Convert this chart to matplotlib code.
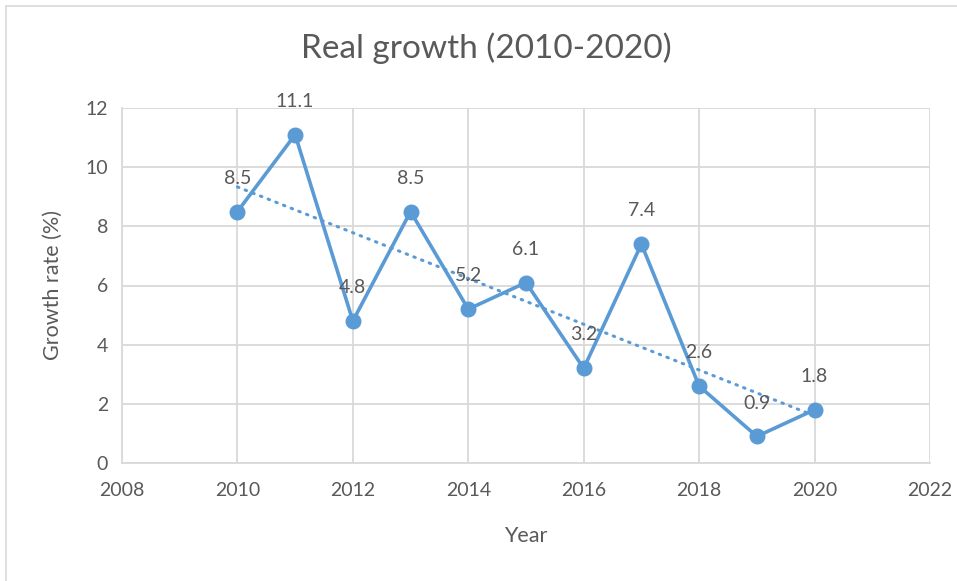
import numpy as np
import matplotlib
matplotlib.use("Agg")
import matplotlib.pyplot as plt
from matplotlib.patches import Rectangle

years = [2010, 2011, 2012, 2013, 2014, 2015, 2016, 2017, 2018, 2019, 2020]
growth = [8.5, 11.1, 4.8, 8.5, 5.2, 6.1, 3.2, 7.4, 2.6, 0.9, 1.8]
xticks = [2008, 2010, 2012, 2014, 2016, 2018, 2020, 2022]
yticks = [0, 2, 4, 6, 8, 10, 12]

plt.rcParams['font.family'] = ['Lato', 'DejaVu Sans']
txt = '#595959'
blue = '#5b9bd5'
grid = '#d9d9d9'

fig = plt.figure(figsize=(9.57, 5.81), dpi=100)
fig.patches.append(Rectangle((6/957, -0.1), 1.1, 1 - 6/581 + 0.1, transform=fig.transFigure,
                             fill=False, edgecolor='#d9d9d9', linewidth=1.2, zorder=0))
ax = fig.add_axes([122/957, 1-463/581, (930-122)/957, (463-108)/581])

ax.set_xlim(2008, 2022)
ax.set_ylim(0, 12)
ax.set_xticks(xticks)
ax.set_yticks(yticks)
ax.grid(True, color=grid, linewidth=1.3)
ax.set_axisbelow(True)
for s in ['top', 'right']:
    ax.spines[s].set_visible(False)
for s in ['left', 'bottom']:
    ax.spines[s].set_color(grid)
    ax.spines[s].set_linewidth(1.3)
ax.tick_params(length=0, labelsize=14, labelcolor=txt, pad=10)
ax.tick_params(axis='x', pad=14)

ax.plot(years, growth, color=blue, linewidth=2.6, marker='o', markersize=10.5, zorder=3)

coef = np.polyfit(years, growth, 1)
tx = np.array([years[0], years[-1]])
ax.plot(tx, np.polyval(coef, tx), color=blue, linewidth=2.2, linestyle=(0, (0.5, 2.2)),
        dash_capstyle='round', zorder=2)

for x, y in zip(years, growth):
    ax.annotate(f"{y}", (x, y), xytext=(0, 24), textcoords='offset points',
                ha='center', va='center', fontsize=14, color=txt, zorder=4)

ax.set_xlabel('Year', fontsize=15.5, color=txt, labelpad=19)
ax.set_ylabel('Growth rate (%)', fontsize=15.5, color=txt, labelpad=16)
fig.text(0.5 + 8/957, 1 - 48/581, 'Real growth (2010-2020)', ha='center', va='center',
         fontsize=24, color=txt)

fig.savefig('out.png', dpi=100)
